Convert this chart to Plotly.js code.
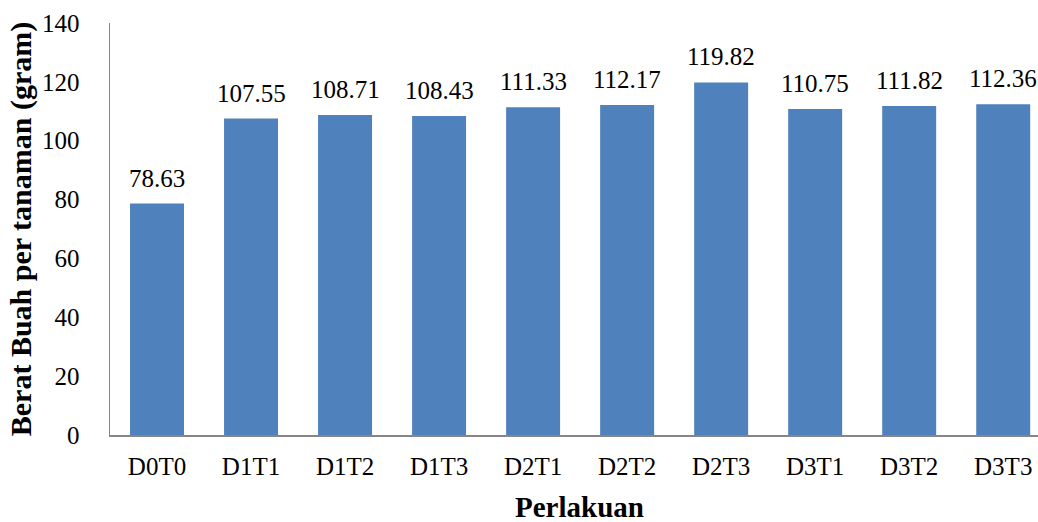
<!DOCTYPE html>
<html>
<head>
<meta charset="utf-8">
<script src="https://cdn.plot.ly/plotly-3.0.1.min.js"></script>
<style>html,body{margin:0;padding:0;background:#fff;}#chart{width:1038px;height:522px;}</style>
</head>
<body>
<div id="chart"></div>
<script>
const categories = ["D0T0","D1T1","D1T2","D1T3","D2T1","D2T2","D2T3","D3T1","D3T2","D3T3"];
const values = [78.63,107.55,108.71,108.43,111.33,112.17,119.82,110.75,111.82,112.36];
const yTicks = [0,20,40,60,80,100,120,140];
const xTitle = "Perlakuan";
const yTitle = "Berat Buah per tanaman (gram)";

const font = "'Liberation Serif','Times New Roman',serif";
const trace = {
  type: 'bar',
  x: categories,
  y: values,
  marker: {color: '#4F81BD'},
  hoverinfo: 'none'
};
const labelAnns = categories.map((c, i) => ({
  x: c, y: values[i], xref: 'x', yref: 'y',
  text: values[i].toFixed(2),
  showarrow: false, xanchor: 'center', yanchor: 'bottom', yshift: 10,
  font: {family: font, size: 25, color: '#000'}
}));
const layout = {
  width: 1038, height: 522,
  margin: {l: 110, r: 0, t: 23, b: 87},
  paper_bgcolor: '#fff', plot_bgcolor: '#fff',
  bargap: 0.426,
  showlegend: false,
  font: {family: font, size: 25, color: '#000'},
  xaxis: {
    type: 'category',
    range: [-0.5, 9.37],
    showline: true, linecolor: '#868686', linewidth: 1.5,
    ticks: '', showgrid: false, zeroline: false,
    tickfont: {family: font, size: 25, color: '#000'},
    ticklabelstandoff: 8
  },
  yaxis: {
    range: [0, 140],
    tickvals: yTicks,
    ticktext: yTicks.map(String),
    showline: true, linecolor: '#868686', linewidth: 1.5,
    ticks: '', showgrid: false, zeroline: false,
    tickfont: {family: font, size: 25, color: '#000'},
    ticklabelstandoff: 24,
    title: {text: '<b>' + yTitle + '</b>', font: {family: font, size: 30, color: '#000'}, standoff: 1}
  },
  annotations: labelAnns.concat([{
    xref: 'paper', yref: 'paper', x: 0.5054, y: 0, yshift: -72,
    xanchor: 'center', yanchor: 'middle', showarrow: false,
    text: '<b>' + xTitle + '</b>',
    font: {family: font, size: 29, color: '#000'}
  }])
};
Plotly.newPlot('chart', [trace], layout, {displayModeBar: false, staticPlot: true});
</script>
</body>
</html>
